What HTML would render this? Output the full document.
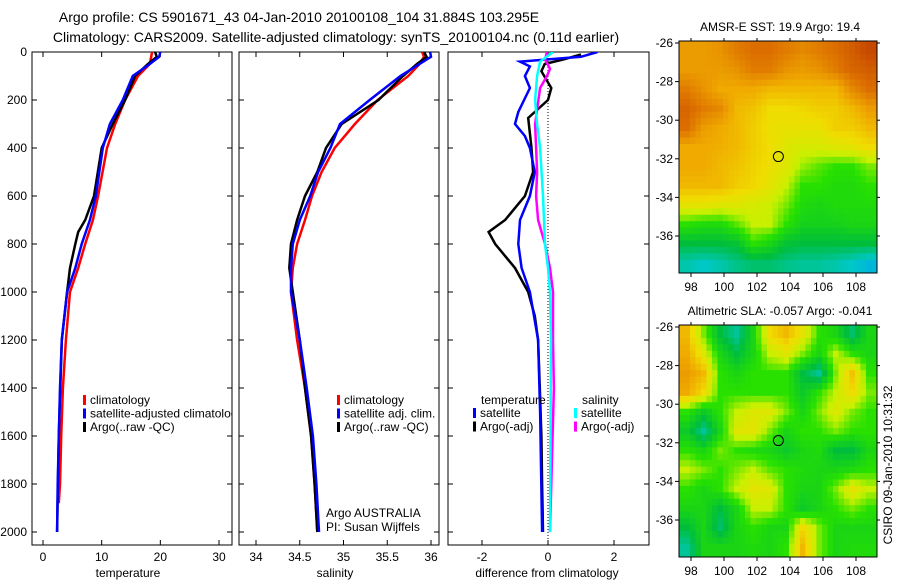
<!DOCTYPE html>
<html><head><meta charset="utf-8">
<style>
html,body{margin:0;padding:0;background:#fff;}
svg{display:block;font-family:"Liberation Sans",sans-serif;}
text{fill:#000;}
</style></head>
<body>
<svg id="fig" width="900" height="580" viewBox="0 0 900 580">
<defs>
<clipPath id="c1"><rect x="32" y="52" width="200" height="493"/></clipPath>
<clipPath id="c2"><rect x="239" y="52" width="200" height="493"/></clipPath>
<clipPath id="c3"><rect x="448" y="52" width="201" height="493"/></clipPath>
</defs>
<text x="299" y="22" font-size="14" text-anchor="middle">Argo profile: CS 5901671_43 04-Jan-2010 20100108_104 31.884S 103.295E</text>
<text x="336" y="42" font-size="14" text-anchor="middle">Climatology: CARS2009. Satellite-adjusted climatology: synTS_20100104.nc (0.11d earlier)</text>
<text x="780" y="31" font-size="12" text-anchor="middle">AMSR-E SST: 19.9 Argo: 19.4</text>
<text x="780" y="315" font-size="12" text-anchor="middle">Altimetric SLA: -0.057 Argo: -0.041</text>
<text x="0" y="0" font-size="12" text-anchor="middle" transform="translate(892,465) rotate(-90)">CSIRO 09-Jan-2010 10:31:32</text>
<g id="g1"></g><g id="g2"></g><g id="g3"></g><g id="m1"></g><g id="m2"></g>
</svg>
<script>
// ---- data ----
const depthTicks=[0,200,400,600,800,1000,1200,1400,1600,1800,2000];
const tempTicks=[0,10,20,30];
const salTicks=[34,34.5,35,35.5,36];
const diffTicks=[-2,0,2];
const lonTicks=[98,100,102,104,106,108];
const latTicks=[-26,-28,-30,-32,-34,-36];

const tClimDepth=[0,50,100,200,300,400,600,700,800,900,1000,1200,1400,1600,1800,1880];
const tClim=[18.6,18.2,16.2,14,12.3,10.9,9.4,8.5,7.2,6,4.6,3.9,3.4,3.1,2.9,2.7];
const tSatDepth=[0,20,50,100,200,300,400,600,700,800,900,1000,1200,1400,1600,1800,2000];
const tSat=[20,19.8,18.2,15.3,13.6,11.4,10.2,9,8,6.6,5.5,4.1,3.2,2.9,2.7,2.5,2.4];
const tArgoDepth=[0,20,50,100,200,300,400,600,700,750,800,900,1000,1200,1600,2000];
const tArgo=[19.1,19.4,17.9,15.7,14,11.9,10,8.7,7.2,6,5.5,4.6,4.1,3.2,2.7,2.4];

const sDepth=[0,20,50,100,200,300,400,500,600,700,800,900,1000,1200,1400,1600,1800,2000];
const sClim=[35.9,35.92,35.87,35.74,35.39,35.13,34.9,34.75,34.64,34.56,34.47,34.42,34.4,34.47,34.56,34.63,34.67,34.7];
const sSat=[35.99,36.0,35.87,35.65,35.3,34.96,34.85,34.71,34.62,34.5,34.42,34.4,34.4,34.5,34.58,34.65,34.69,34.72];
const sArgo=[35.92,35.95,35.84,35.68,35.4,34.98,34.8,34.7,34.56,34.47,34.4,34.38,34.42,34.5,34.56,34.63,34.67,34.7];

const dTSatDepth=[0,20,40,60,100,150,250,300,350,400,500,600,700,800,900,1000,1200,1500,2000];
const dTSat=[1.5,1.0,-0.85,-0.55,-0.7,-0.55,-0.9,-1.0,-0.7,-0.55,-0.4,-0.55,-0.85,-0.9,-0.8,-0.55,-0.3,-0.24,-0.18];
const dTArgoDepth=[10,30,50,80,150,200,275,400,500,600,700,750,800,900,1000,1100,1200,1400,1600,1800,2000];
const dTArgo=[1.0,0.5,-0.1,-0.2,0.1,0,-0.6,-0.5,-0.45,-0.7,-1.3,-1.8,-1.6,-1.0,-0.6,-0.4,-0.3,-0.25,-0.2,-0.18,-0.15];
const dSSatDepth=[0,40,100,200,300,400,600,800,900,1000,1200,2000];
const dSSat=[0.15,-0.24,-0.33,-0.39,-0.33,-0.24,-0.15,-0.09,0,0.06,0.09,0.06];
const dSArgoDepth=[0,30,70,100,150,300,500,600,700,800,900,1000,1200,1400,2000];
const dSArgo=[-0.03,-0.09,0.06,-0.03,-0.24,-0.39,-0.33,-0.36,-0.3,-0.09,0.06,0.15,0.15,0.18,0.06];

const sstGrid=[
[0.78,0.78,0.8,0.85,0.88,0.88,0.85,0.82,0.85,0.88,0.92,0.97],
[0.78,0.78,0.78,0.8,0.85,0.85,0.8,0.78,0.8,0.85,0.9,0.92],
[0.85,0.8,0.75,0.75,0.75,0.72,0.72,0.72,0.72,0.72,0.82,0.88],
[0.9,0.85,0.82,0.72,0.7,0.65,0.65,0.66,0.68,0.68,0.72,0.78],
[0.88,0.78,0.75,0.72,0.68,0.64,0.63,0.63,0.63,0.68,0.68,0.72],
[0.75,0.75,0.74,0.72,0.68,0.65,0.6,0.58,0.58,0.6,0.62,0.65],
[0.75,0.75,0.72,0.7,0.67,0.64,0.6,0.52,0.48,0.45,0.45,0.5],
[0.72,0.72,0.72,0.68,0.66,0.62,0.55,0.45,0.45,0.42,0.42,0.45],
[0.62,0.62,0.6,0.6,0.58,0.56,0.5,0.42,0.4,0.42,0.42,0.42],
[0.45,0.42,0.42,0.48,0.55,0.55,0.45,0.38,0.38,0.38,0.4,0.4],
[0.3,0.3,0.3,0.32,0.45,0.4,0.32,0.3,0.3,0.3,0.3,0.3],
[0.18,0.15,0.18,0.22,0.25,0.25,0.22,0.2,0.2,0.18,0.15,0.1]];
const slaGrid=[
[0.72,0.5,0.3,0.2,0.4,0.65,0.72,0.62,0.45,0.4,0.25,0.4],
[0.75,0.6,0.4,0.3,0.4,0.55,0.6,0.5,0.4,0.55,0.45,0.4],
[0.78,0.72,0.45,0.4,0.45,0.45,0.45,0.3,0.2,0.5,0.7,0.45],
[0.75,0.65,0.45,0.45,0.45,0.45,0.45,0.35,0.45,0.55,0.65,0.5],
[0.45,0.35,0.45,0.55,0.6,0.6,0.5,0.4,0.5,0.6,0.5,0.45],
[0.35,0.2,0.4,0.6,0.62,0.5,0.4,0.45,0.45,0.5,0.45,0.45],
[0.45,0.4,0.5,0.45,0.42,0.4,0.35,0.4,0.42,0.3,0.3,0.4],
[0.55,0.5,0.45,0.5,0.55,0.48,0.45,0.42,0.4,0.4,0.42,0.45],
[0.45,0.4,0.45,0.55,0.62,0.6,0.45,0.4,0.4,0.5,0.62,0.55],
[0.4,0.4,0.3,0.4,0.55,0.55,0.45,0.35,0.4,0.45,0.5,0.45],
[0.3,0.4,0.25,0.4,0.45,0.4,0.4,0.65,0.5,0.4,0.4,0.4],
[0.2,0.4,0.4,0.4,0.42,0.4,0.45,0.72,0.5,0.4,0.42,0.42]];
const argoLon=103.295, argoLat=-31.884;

// ---- helpers ----
const NS='http://www.w3.org/2000/svg';
function mk(tag,parent,attrs){const e=document.createElementNS(NS,tag);for(const k in attrs)e.setAttribute(k,attrs[k]);parent.appendChild(e);return e;}
const yD=d=>52+d*0.24;
const xT=t=>43+t*5.867;
const xS=s=>256+(s-34)*87.5;
const xDf=v=>548+v*33;

function frame(g,x0,x1,name){
  const r=mk('rect',g,{x:x0,y:52,width:x1-x0,height:493,fill:'none',stroke:'#000','stroke-width':1});
  
  
  depthTicks.forEach(d=>{
    const y=yD(d);
    mk('line',g,{x1:x0,x2:x0+5,y1:y,y2:y,stroke:'#000'});
    mk('line',g,{x1:x1-5,x2:x1,y1:y,y2:y,stroke:'#000'});
  });
}
function xticks(g,ticks,fx){
  ticks.forEach(t=>{
    const x=fx(t);
    mk('line',g,{x1:x,x2:x,y1:545,y2:540,stroke:'#000'});
    mk('line',g,{x1:x,x2:x,y1:52,y2:57,stroke:'#000'});
    const tx=mk('text',g,{x:x,y:561,'font-size':12,'text-anchor':'middle'});
    tx.textContent=String(t);
    
    
  });
}
function line(g,xs,ds,fx,color,clip,name){
  const p=xs.map((v,i)=>fx(v).toFixed(1)+','+yD(ds[i]).toFixed(1)).join(' ');
  const pl=mk('polyline',g,{points:p,fill:'none',stroke:color,'stroke-width':2.5,'clip-path':'url(#'+clip+')'});
  
  
}
function legend(g,x,y,items,name){
  items.forEach((it,i)=>{
    mk('rect',g,{x:x,y:y+i*13.5-9,width:3,height:10,fill:it[0]});
    const t=mk('text',g,{x:x+7,y:y+i*13.5,'font-size':12});
    t.textContent=it[1];
    
    
  });
}

// ---- panel 1 temperature ----
const g1=document.getElementById('g1');
frame(g1,32,232,'temperature-panel');
depthTicks.forEach(d=>{
  const t=mk('text',g1,{x:27,y:yD(d)+4,'font-size':12,'text-anchor':'end'});
  t.textContent=String(d);
  
  
});
xticks(g1,tempTicks,xT);
let tl=mk('text',g1,{x:128,y:577,'font-size':12,'text-anchor':'middle'});tl.textContent='temperature';


line(g1,tClim,tClimDepth,xT,'#f00','c1','temp-climatology-line');
line(g1,tArgo,tArgoDepth,xT,'#000','c1','temp-argo-line');
line(g1,tSat,tSatDepth,xT,'#00f','c1','temp-satellite-line');
const lg1=mk('g',g1,{'clip-path':'url(#c1)'});
legend(lg1,83,404,[['#f00','climatology'],['#00f','satellite-adjusted climatology'],['#000','Argo(..raw -QC)']],'temp-legend');

// ---- panel 2 salinity ----
const g2=document.getElementById('g2');
frame(g2,239,439,'salinity-panel');
xticks(g2,salTicks,xS);
tl=mk('text',g2,{x:335,y:577,'font-size':12,'text-anchor':'middle'});tl.textContent='salinity';


line(g2,sClim,sDepth,xS,'#f00','c2','sal-climatology-line');
line(g2,sArgo,sDepth,xS,'#000','c2','sal-argo-line');
line(g2,sSat,sDepth,xS,'#00f','c2','sal-satellite-line');
legend(g2,337,404,[['#f00','climatology'],['#00f','satellite adj. clim.'],['#000','Argo(..raw -QC)']],'sal-legend');
let pi=mk('text',g2,{x:326,y:517,'font-size':12});pi.textContent='Argo AUSTRALIA';


pi=mk('text',g2,{x:326,y:531,'font-size':12});pi.textContent='PI: Susan Wijffels';



// ---- panel 3 difference ----
const g3=document.getElementById('g3');
frame(g3,448,649,'difference-panel');
xticks(g3,diffTicks,xDf);
mk('line',g3,{x1:xDf(0),x2:xDf(0),y1:52,y2:545,stroke:'#000','stroke-dasharray':'1,2'});
tl=mk('text',g3,{x:547,y:577,'font-size':12,'text-anchor':'middle'});tl.textContent='difference from climatology';


line(g3,dTArgo,dTArgoDepth,xDf,'#000','c3','dtemp-argo-line');
line(g3,dTSat,dTSatDepth,xDf,'#00f','c3','dtemp-satellite-line');
line(g3,dSArgo,dSArgoDepth,xDf,'#f0f','c3','dsal-argo-line');
line(g3,dSSat,dSSatDepth,xDf,'#0ff','c3','dsal-satellite-line');
const lg3=mk('g',g3,{'clip-path':'url(#c3)'});
let lt=mk('text',lg3,{x:481,y:404,'font-size':12});lt.textContent='temperature';


legend(lg3,473,417,[['#00f','satellite'],['#000','Argo(-adj)']],'dtemp-legend');
lt=mk('text',lg3,{x:582,y:404,'font-size':12});lt.textContent='salinity';


legend(lg3,574,417,[['#0ff','satellite'],['#f0f','Argo(-adj)']],'dsal-legend');

// ---- maps ----
const stops=[[0,[0,150,255]],[0.15,[0,200,200]],[0.3,[0,190,60]],[0.45,[40,225,0]],[0.55,[200,240,0]],[0.65,[240,220,0]],[0.75,[240,170,0]],[0.88,[220,110,0]],[1,[190,60,0]]];
function cmap(v){
  for(let i=1;i<stops.length;i++){if(v<=stops[i][0]){const a=stops[i-1],b=stops[i];const f=(v-a[0])/(b[0]-a[0]);
    return 'rgb('+a[1].map((c,k)=>Math.round(c+(b[1][k]-c)*f)).join(',')+')';}}
  return 'rgb(190,60,0)';
}
function sample(grid,r,c){ // bilinear between cell centres
  const R=grid.length,C=grid[0].length;
  r=Math.min(Math.max(r-0.5,0),R-1);c=Math.min(Math.max(c-0.5,0),C-1);
  const r0=Math.floor(r),c0=Math.floor(c),r1=Math.min(r0+1,R-1),c1=Math.min(c0+1,C-1);
  const fr=r-r0,fc=c-c0;
  return grid[r0][c0]*(1-fr)*(1-fc)+grid[r0][c1]*(1-fr)*fc+grid[r1][c0]*fr*(1-fc)+grid[r1][c1]*fr*fc;
}
function map(id,top,grid,name){
  const g=document.getElementById(id);
  const x0=679,x1=877,y1=top+232;
  const lonX=l=>691+(l-98)*16.5;
  const latY=l=>top+2+(-26-l)*19.3;
  const lon0=97.27,lat0=-25.9,sub=3;
  const R=grid.length,C=grid[0].length;
  for(let r=0;r<R*sub;r++)for(let c=0;c<C*sub;c++){
    const v=sample(grid,(r+0.5)/sub,(c+0.5)/sub);
    const xa=Math.max(x0,lonX(lon0+c/sub)),xb=Math.min(x1,lonX(lon0+(c+1)/sub));
    const ya=Math.max(top,latY(lat0-r/sub)),yb=Math.min(y1,latY(lat0-(r+1)/sub));
    if(xb<=xa||yb<=ya)continue;
    const cell=mk('rect',g,{x:xa,y:ya,width:xb-xa+0.5,height:yb-ya+0.5,fill:cmap(v)});
    
    
  }
  const fr=mk('rect',g,{x:x0,y:top,width:x1-x0,height:y1-top,fill:'none',stroke:'#000'});
  
  
  lonTicks.forEach(l=>{
    const x=lonX(l);
    mk('line',g,{x1:x,x2:x,y1:y1,y2:y1+4,stroke:'#000'});
    mk('line',g,{x1:x,x2:x,y1:top,y2:top-3,stroke:'#000'});
    const t=mk('text',g,{x:x,y:y1+18,'font-size':12,'text-anchor':'middle'});t.textContent=String(l);
    
    
  });
  latTicks.forEach(l=>{
    const y=latY(l);
    mk('line',g,{x1:x0-4,x2:x0,y1:y,y2:y,stroke:'#000'});
    mk('line',g,{x1:x1,x2:x1+3,y1:y,y2:y,stroke:'#000'});
    const t=mk('text',g,{x:x0-6,y:y+4,'font-size':12,'text-anchor':'end'});t.textContent=String(l);
    
    
  });
  const cir=mk('circle',g,{cx:lonX(argoLon),cy:latY(argoLat),r:5,fill:'none',stroke:'#000','stroke-width':1});
  
  
}
map('m1',41,sstGrid,'sst-map');
map('m2',325,slaGrid,'sla-map');
</script>
</body></html>
